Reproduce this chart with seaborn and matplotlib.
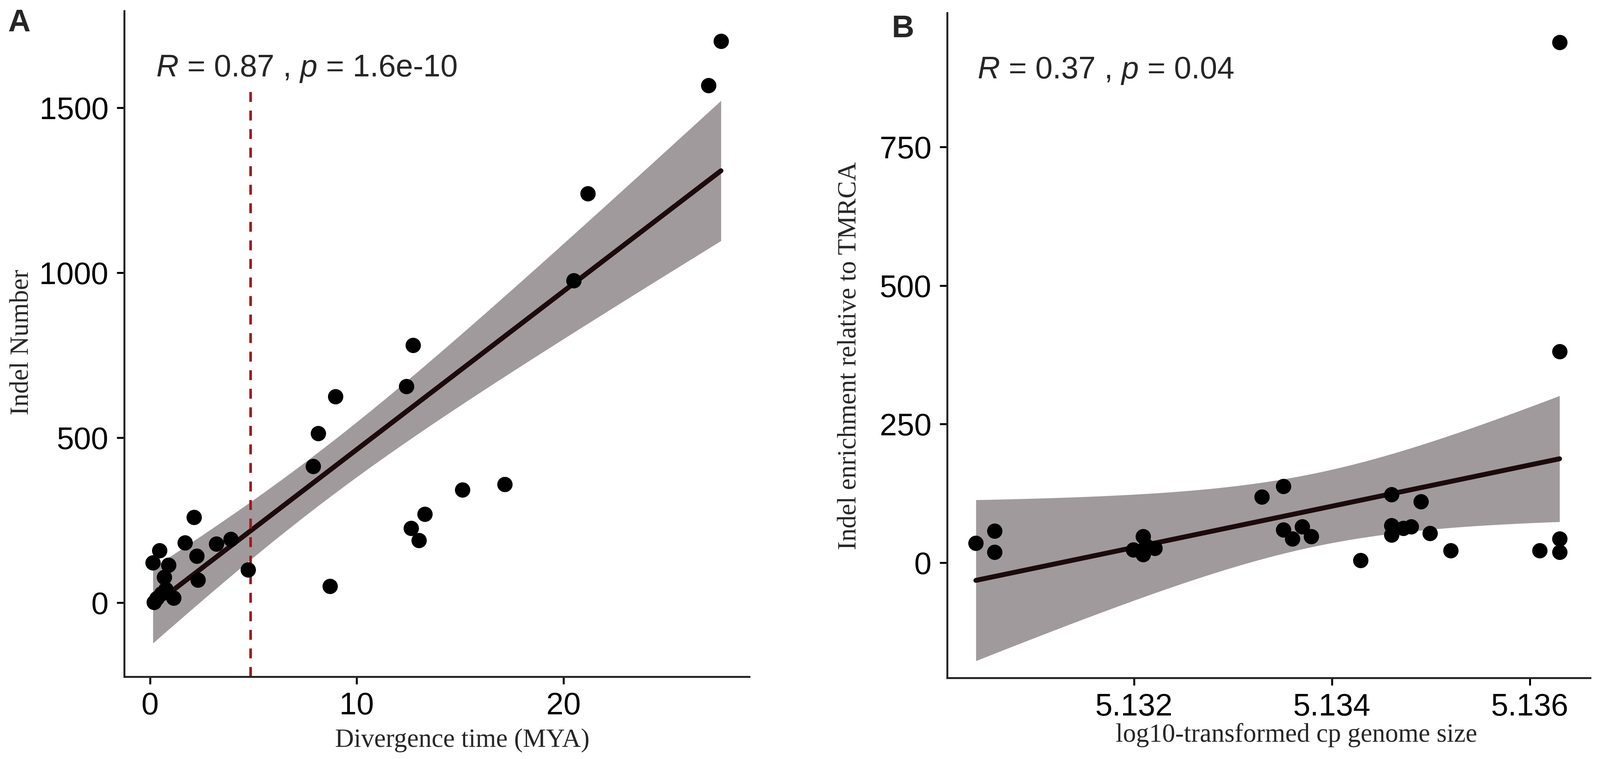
import numpy as np
import pandas as pd
import seaborn as sns
import matplotlib.pyplot as plt

# ---- data ----
# panel A: divergence time vs indel number
div_time = [27.62, 27.01, 21.17, 20.49, 12.72, 8.98, 12.40, 8.13, 7.89, 17.16,
            15.11, 13.30, 12.63, 13.01, 8.71, 2.13, 1.69, 2.26, 3.20, 3.90,
            4.74, 0.46, 0.14, 0.90, 0.68, 2.32, 0.33, 1.15, 0.77, 0.20, 0.55]
indel_num = [1702, 1567, 1240, 976, 780, 625, 656, 513, 413, 359,
             342, 269, 226, 189, 50, 259, 182, 142, 178, 193,
             100, 158, 122, 114, 77, 69, 13, 15, 41, 2, 28]
cutoff_time = 4.86
cutoff_top = 1567

# panel B: genome size vs indel enrichment
genome_size = [5.13040, 5.13059, 5.13059, 5.13209, 5.13199, 5.13221, 5.13209,
               5.13212, 5.13329, 5.13351, 5.13351, 5.13360, 5.13370, 5.13379,
               5.13429, 5.13460, 5.13460, 5.13460, 5.13472, 5.13480, 5.13490,
               5.13499, 5.13520, 5.13610, 5.13630, 5.13630, 5.13630, 5.13630]
indel_enrich = [35, 57, 19, 47, 23, 26, 15, 30, 119, 138, 59, 43, 65, 47,
                4, 123, 67, 50, 62, 65, 110, 53, 22, 22, 43, 19, 939, 381]

label_a = r"$\mathit{R}$ = 0.87 , $\mathit{p}$ = 1.6e-10"
label_b = r"$\mathit{R}$ = 0.37 , $\mathit{p}$ = 0.04"
label_pos_a = (0.29, 1595)
label_pos_b = (5.130416, 874)

xticks_a = [0, 10, 20]
yticks_a = [0, 500, 1000, 1500]
xticks_b = [5.132, 5.134, 5.136]
yticks_b = [0, 250, 500, 750]

T95 = 2.05  # t quantile, df ~ 28

RIBBON = "#A09A9C"
LINE = "#1C0A0C"
RED = "#A3161C"

sns.set_style("ticks")
plt.rcParams['font.family'] = ['Liberation Sans', 'DejaVu Sans']
plt.rcParams['mathtext.fontset'] = 'custom'
plt.rcParams['mathtext.rm'] = 'Liberation Sans'
plt.rcParams['mathtext.it'] = 'Liberation Sans:italic'
plt.rcParams['axes.linewidth'] = 1.2
plt.rcParams['xtick.major.width'] = 1.2
plt.rcParams['ytick.major.width'] = 1.2
plt.rcParams['xtick.major.size'] = 4.6
plt.rcParams['ytick.major.size'] = 4.6
plt.rcParams['xtick.major.pad'] = 4.5
plt.rcParams['ytick.major.pad'] = 5
plt.rcParams['xtick.color'] = 'black'
plt.rcParams['ytick.color'] = 'black'


def lm_band(x, y, grid):
    # linear-model confidence band (like geom_smooth(method = "lm"))
    x = np.asarray(x, float)
    y = np.asarray(y, float)
    n = len(x)
    xm = x.mean()
    b1, b0 = np.polyfit(x - xm, y, 1)
    fit = b0 + b1 * (grid - xm)
    resid = y - (b0 + b1 * (x - xm))
    s = np.sqrt((resid ** 2).sum() / (n - 2))
    se = s * np.sqrt(1 / n + (grid - xm) ** 2 / ((x - xm) ** 2).sum())
    return fit - T95 * se, fit + T95 * se


def draw_panel(ax, df, xcol, ycol):
    grid = np.linspace(df[xcol].min(), df[xcol].max(), 200)
    lo, hi = lm_band(df[xcol], df[ycol], grid)
    ax.fill_between(grid, lo, hi, color=RIBBON, lw=0, zorder=1)
    sns.regplot(data=df, x=xcol, y=ycol, ax=ax, ci=None,
                scatter_kws={'s': 88, 'color': 'black', 'linewidths': 0, 'alpha': 1, 'zorder': 3},
                line_kws={'color': LINE, 'lw': 3, 'zorder': 2})


fig = plt.figure(figsize=(4083 / 300, 1937 / 300), dpi=300)
ax_a = fig.add_axes([0.0776, 0.1084, 0.3907, 0.8771])
ax_b = fig.add_axes([0.592, 0.1069, 0.4019, 0.8761])

df_a = pd.DataFrame({'time': div_time, 'indel': indel_num})
df_b = pd.DataFrame({'size': genome_size, 'enrich': indel_enrich})

# Panel A
draw_panel(ax_a, df_a, 'time', 'indel')
ax_a.set_xlim(-1.25, 28.99)
ax_a.set_ylim(-224, 1793)
ylo, yhi = ax_a.get_ylim()
ax_a.axvline(cutoff_time, ymin=0, ymax=(cutoff_top - ylo) / (yhi - ylo),
             color=RED, lw=1.6, linestyle=(0, (3.8, 3.3)), zorder=2.5)
ax_a.set_xticks(xticks_a)
ax_a.set_yticks(yticks_a)
ax_a.text(*label_pos_a, label_a, fontsize=19, ha='left', va='baseline')

# Panel B
draw_panel(ax_b, df_b, 'size', 'enrich')
ax_b.set_xlim(5.13011, 5.13661)
ax_b.set_ylim(-208, 992)
ax_b.set_xticks(xticks_b)
ax_b.set_xticklabels([f"{t:.3f}" for t in xticks_b])
ax_b.set_yticks(yticks_b)
ax_b.text(*label_pos_b, label_b, fontsize=19, ha='left', va='baseline')

serif = {'family': 'Liberation Serif', 'size': 16}
for ax, xl, yl, xc, yc in [
    (ax_a, "Divergence time (MYA)", "Indel Number", (0.541, -0.1048), (-0.1636, 0.5027)),
    (ax_b, "log10-transformed cp genome size", "Indel enrichment relative to TMRCA",
     (0.543, -0.096), (-0.1523, 0.4844)),
]:
    ax.set_xlabel(xl, fontdict=serif)
    ax.set_ylabel(yl, fontdict=serif)
    ax.xaxis.label.set_va('baseline')
    ax.yaxis.label.set_va('center')
    ax.xaxis.set_label_coords(*xc)
    ax.yaxis.set_label_coords(*yc)
    ax.tick_params(labelsize=19)
    sns.despine(ax=ax)

fig.text(0.005, 0.9886, "A", fontsize=19, fontweight='bold', va='top', ha='left')
fig.text(0.5574, 0.981, "B", fontsize=19, fontweight='bold', va='top', ha='left')

fig.savefig("out.png", dpi=300)
